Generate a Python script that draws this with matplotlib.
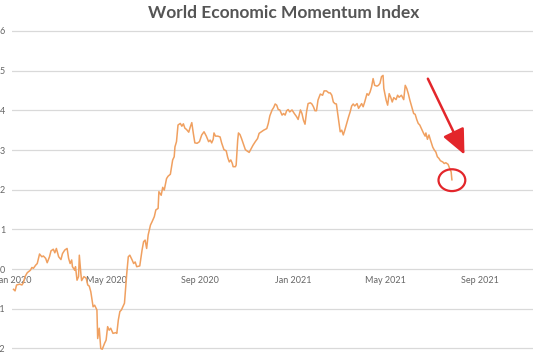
import matplotlib
matplotlib.use("Agg")
import matplotlib.pyplot as plt
import matplotlib.dates as mdates
from matplotlib.patches import Ellipse, FancyArrowPatch
import pandas as pd

# days since 2020-01-01
day_offset = [0, 2, 4, 8, 11, 13, 15, 18, 22, 24, 26, 29, 31, 34, 37, 39, 42, 44, 47, 49,
              52, 54, 56, 59, 62, 64, 67, 70, 72, 74, 76, 77, 80, 81, 83, 85, 86, 88, 89, 92,
              95, 97, 99, 101, 104, 106, 109, 110, 112, 114, 116, 119, 121, 123, 125, 127, 130, 134, 135, 137,
              139, 141, 145, 148, 150, 152, 155, 157, 159, 161, 165, 168, 170, 172, 174, 176, 179, 181, 184, 186,
              189, 190, 193, 195, 197, 200, 202, 205, 208, 210, 211, 213, 215, 218, 220, 222, 224, 226, 229, 231,
              233, 235, 237, 240, 243, 246, 249, 252, 255, 257, 259, 261, 262, 264, 267, 270, 272, 275, 278, 280,
              282, 284, 286, 287, 290, 291, 293, 294, 296, 298, 300, 303, 305, 308, 310, 313, 316, 319, 321, 324,
              327, 331, 333, 335, 338, 340, 342, 344, 346, 348, 351, 353, 355, 357, 359, 361, 364, 367, 370, 372,
              375, 377, 379, 381, 383, 385, 388, 390, 392, 394, 396, 398, 401, 404, 406, 409, 412, 414, 416, 418,
              420, 422, 425, 427, 429, 431, 433, 436, 438, 440, 442, 444, 446, 449, 451, 453, 455, 457, 459, 462,
              464, 466, 468, 470, 472, 475, 477, 479, 481, 483, 484, 487, 489, 491, 493, 495, 497, 500, 502, 504,
              507, 510, 512, 514, 516, 518, 521, 523, 525, 527, 529, 531, 534, 536, 538, 539, 541, 543, 545, 548,
              550, 552, 554, 556, 558, 561, 563, 565, 568, 570, 572, 573]

momentum = [-0.51, -0.55, -0.40, -0.38, -0.40, -0.34, -0.19, -0.09, -0.03, 0.04, 0.02, 0.10, 0.14, 0.38, 0.31, 0.33, 0.27, 0.16, 0.31, 0.46,
            0.50, 0.41, 0.52, 0.31, 0.24, 0.39, 0.48, 0.52, 0.27, 0.14, 0.23, 0.06, -0.03, 0.06, -0.28, -0.19, 0.35, -0.11, -0.29, -0.19,
            -0.23, -0.40, -0.43, -0.57, -0.95, -0.91, -1.03, -1.75, -1.49, -2.00, -2.02, -1.87, -1.79, -1.45, -1.54, -1.49, -1.62, -1.60, -1.62, -1.28,
            -1.07, -1.03, -0.86, -0.11, 0.31, 0.35, 0.23, 0.14, 0.18, 0.06, 0.08, 0.48, 0.69, 0.73, 0.52, 0.86, 1.11, 1.19, 1.32, 1.49,
            1.53, 1.95, 1.86, 2.06, 1.99, 2.28, 2.34, 2.39, 2.75, 2.83, 3.08, 3.21, 3.63, 3.67, 3.60, 3.66, 3.55, 3.52, 3.45, 3.58,
            3.69, 3.42, 3.18, 3.17, 3.21, 3.38, 3.46, 3.35, 3.21, 3.25, 3.18, 3.27, 3.43, 3.35, 3.35, 3.33, 3.18, 3.01, 2.98, 2.81,
            2.70, 2.75, 2.66, 2.58, 2.58, 2.62, 3.25, 3.43, 3.39, 3.29, 3.18, 3.01, 2.98, 2.94, 3.01, 3.12, 3.21, 3.29, 3.42, 3.46,
            3.50, 3.54, 3.67, 3.86, 4.01, 4.07, 4.16, 4.13, 4.02, 4.01, 3.88, 3.92, 3.88, 3.99, 4.02, 3.96, 4.01, 3.92, 3.84, 3.77,
            4.01, 3.92, 3.75, 3.65, 3.96, 4.17, 4.19, 4.16, 4.09, 3.99, 3.99, 4.26, 4.41, 4.38, 4.49, 4.49, 4.44, 4.44, 4.38, 4.21,
            4.17, 4.16, 3.75, 3.46, 3.50, 3.38, 3.50, 3.71, 3.84, 3.96, 4.11, 4.16, 4.11, 4.17, 4.05, 4.11, 4.17, 4.09, 4.21, 4.42,
            4.38, 4.46, 4.59, 4.80, 4.63, 4.61, 4.63, 4.68, 4.85, 4.88, 4.55, 4.26, 4.13, 4.42, 4.33, 4.21, 4.32, 4.27, 4.38, 4.33,
            4.38, 4.27, 4.63, 4.55, 4.42, 4.26, 4.05, 3.92, 3.90, 3.77, 3.67, 3.63, 3.50, 3.42, 3.35, 3.43, 3.27, 3.38, 3.25, 3.07,
            3.00, 2.95, 2.83, 2.79, 2.73, 2.70, 2.66, 2.68, 2.64, 2.54, 2.45, 2.25]

y_ticks = [-2, -1, 0, 1, 2, 3, 4, 5, 6]
x_tick_dates = ["2020-01-01", "2020-05-01", "2020-09-01", "2021-01-01", "2021-05-01", "2021-09-01"]
x_tick_labels = ["Jan 2020", "May 2020", "Sep 2020", "Jan 2021", "May 2021", "Sep 2021"]
title = "World Economic Momentum Index"

start = pd.Timestamp("2020-01-01")
dates = start + pd.to_timedelta(day_offset, unit="D")

W, H = 533, 356
fig = plt.figure(figsize=(W / 100, H / 100), dpi=100)
fig.patch.set_facecolor("white")
ax = fig.add_axes([12 / W, 0, 1 - 12 / W, 1])
ax.set_facecolor("white")

ax.plot(dates, momentum, color="#F0A060", lw=1.1, zorder=3)

ax.set_ylim(-2.19, 6.78)
ax.set_xlim(start - pd.Timedelta(days=2), start + pd.Timedelta(days=679))

ax.set_yticks(y_ticks)
ax.set_yticklabels([str(v) for v in y_ticks])
ax.grid(axis="y", color="#D9D9D9", lw=0.9)
ax.set_axisbelow(True)
for s in ax.spines.values():
    s.set_visible(False)

ax.set_xticks(pd.to_datetime(x_tick_dates))
ax.set_xticklabels(x_tick_labels)
ax.spines["bottom"].set_position(("data", 0))
ax.tick_params(axis="x", length=0, pad=5, labelsize=6.5, labelcolor="#666666")
ax.tick_params(axis="y", length=0, pad=5, labelsize=6.5, labelcolor="#666666")
for lbl in ax.get_xticklabels() + ax.get_yticklabels():
    lbl.set_fontfamily("Lato")

fig.text(284 / W, 1 - 12.5 / H, title, ha="center", va="center",
         fontsize=12.5, fontweight="bold", color="#555555", family="Lato")

# annotations
tail = (mdates.date2num(start + pd.Timedelta(days=540)), 4.86)
tip = (mdates.date2num(start + pd.Timedelta(days=591)), 2.82)
arrow = FancyArrowPatch(tail, tip, arrowstyle="-|>,head_length=1.1,head_width=0.5",
                        mutation_scale=14, color="#E3262B", lw=1.8, zorder=4)
ax.add_patch(arrow)
ell = Ellipse((mdates.date2num(start + pd.Timedelta(days=573)), 2.24), width=35, height=0.55,
              fill=False, edgecolor="#E3262B", lw=1.6, zorder=4)
ax.add_patch(ell)

fig.savefig("out.png", dpi=100, facecolor="white")
